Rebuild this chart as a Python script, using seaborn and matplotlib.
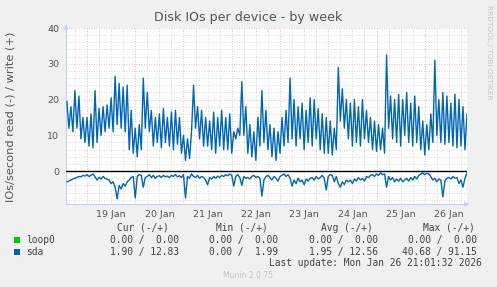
import numpy as np
import pandas as pd
import matplotlib
matplotlib.use("Agg")
import matplotlib.pyplot as plt
import matplotlib.dates as mdates
from matplotlib.ticker import MultipleLocator, FuncFormatter, FixedLocator
import seaborn as sns

# ---------------- data (hourly samples, 18 Jan 14:00 -> 26 Jan 21:00) ----------------
sda_write = [
    19.5, 12, 18, 11, 22.5, 12, 21, 9, 15, 8,
    15, 7, 16, 6.5, 22.5, 8, 17.5, 10, 18, 11,
    18.5, 12, 20.5, 11, 26.5, 13, 24.5, 12, 23.5, 11,
    24, 6, 17, 5, 12, 4, 13, 6, 26, 12,
    22, 11, 17, 7, 15, 8, 16, 6.5, 17.5, 8,
    15, 7, 16.5, 6, 17, 7.5, 15, 5, 10, 3,
    9, 3.5, 11, 24, 12, 18, 9, 17, 7, 15,
    7, 14, 6, 16.5, 5, 15, 7, 17, 6, 15,
    6, 16, 5, 11, 9, 12, 10, 25, 10, 18,
    5, 13, 4, 11, 3, 15, 7, 22.5, 8, 17,
    6, 13, 4, 12, 3, 11, 5, 15, 7, 17,
    8, 26, 9, 20, 7, 18, 9, 19, 6, 17,
    8, 20.5, 7, 20, 9, 17.5, 6, 16, 5, 15,
    5, 14, 4.5, 12, 6, 29, 14, 23, 12, 20,
    9, 19, 7, 20, 8, 18, 7, 20, 9, 17,
    8, 15, 6, 14, 5.5, 13, 6, 12, 5, 32.5,
    12, 21, 9, 20, 8, 21.5, 7, 20, 10, 22,
    8, 19, 7, 21, 8, 18, 6, 14, 4.5, 13,
    6, 16, 8, 31, 10, 20, 8, 22, 7.5, 21,
    8, 19, 7, 21.5, 6.5, 20, 7, 18, 6, 16,
]
sda_read = [
    3.0, 2.8, 2.5, 2.2, 2.0, 1.8, 1.5, 1.6, 1.2, 1.4,
    1.0, 1.5, 1.2, 0.8, 1.6, 2.5, 1.8, 2.2, 1.5, 2.0,
    2.3, 2.5, 3.5, 3.0, 4.5, 7.8, 4.0, 5.0, 3.5, 4.2,
    3.0, 2.5, 1.8, 1.5, 7.5, 1.5, 1.0, 1.2, 4.5, 1.8,
    1.5, 1.0, 1.8, 1.2, 2.0, 1.5, 1.3, 1.8, 1.2, 1.6,
    1.4, 1.8, 1.2, 1.5, 1.0, 1.6, 1.3, 1.8, 1.0, 7.5,
    1.5, 2.0, 0.8, 1.5, 1.8, 1.2, 2.0, 1.5, 1.8, 2.5,
    3.8, 1.8, 2.2, 1.5, 2.0, 1.4, 1.8, 1.2, 1.5, 1.0,
    1.3, 0.8, 1.2, 4.2, 1.5, 1.0, 1.8, 4.0, 1.5, 2.0,
    1.8, 2.2, 1.5, 1.2, 1.8, 1.5, 2.0, 7.0, 2.5, 1.5,
    1.2, 1.8, 2.5, 1.5, 2.0, 2.8, 1.5, 1.2, 0.8, 1.5,
    1.0, 2.0, 4.2, 2.5, 3.5, 2.0, 3.0, 2.5, 3.8, 2.2,
    2.8, 2.0, 1.8, 2.5, 1.5, 2.2, 1.8, 1.2, 2.0, 5.3,
    1.5, 1.0, 1.2, 3.0, 1.5, 3.5, 4.5, 3.0, 3.8, 2.5,
    3.0, 2.5, 3.5, 2.2, 2.8, 1.8, 2.5, 2.0, 2.8, 1.5,
    1.8, 1.2, 1.0, 1.5, 0.8, 1.2, 0.5, 1.0, 0.8, 4.5,
    1.5, 2.5, 1.8, 3.0, 2.2, 2.8, 2.0, 3.0, 2.5, 2.0,
    2.8, 1.8, 2.5, 1.5, 2.2, 1.2, 0.8, 0.5, 1.0, 0.6,
    0.8, 1.5, 2.5, 2.0, 3.0, 2.2, 2.5, 7.2, 2.8, 2.0,
    1.8, 2.2, 1.5, 2.0, 1.8, 3.5, 2.5, 4.5, 2.0, 0.5,
]
series_names = ["loop0", "sda"]
series_colors = ["#00CC00", "#0066B3"]
col_headers = ["Cur (-/+)", "Min (-/+)", "Avg (-/+)", "Max (-/+)"]
loop0_stats = ["0.00 /  0.00", "0.00 /  0.00", "0.00 /  0.00", "0.00 /  0.00"]
sda_stats = ["1.90 / 12.83", "0.00 /  1.99", "1.95 / 12.56", "40.68 / 91.15"]
y_tick_values = [0, 10, 20, 30, 40]

title = "Disk IOs per device - by week"
ylabel = "IOs/second read (-) / write (+)"
last_update = "Last update: Mon Jan 26 21:01:32 2026"
munin_ver = "Munin 2.0.75"
rrd_credit = "RRDTOOL / TOBI OETIKER"

# ---------------- figure ----------------
sns.set_theme(style="white")
plt.rcParams["font.family"] = ["DejaVu Sans"]

W, H = 497, 287
fig = plt.figure(figsize=(W / 100, H / 100), dpi=100, facecolor="#F0F0F0")
ax = fig.add_axes([66 / W, 1 - 204 / H, 401 / W, 176 / H])
ax.set_facecolor("white")

times = pd.date_range("2026-01-18 14:00", periods=len(sda_write), freq="h")
df = pd.DataFrame({"time": times, "write": sda_write,
                   "read": [-v for v in sda_read]})

sns.lineplot(data=df, x="time", y="write", ax=ax, color=series_colors[1],
             lw=1.0, zorder=3)
sns.lineplot(data=df, x="time", y="read", ax=ax, color=series_colors[1],
             lw=1.0, zorder=3)

ax.set_xlim(pd.Timestamp("2026-01-18 13:34"), pd.Timestamp("2026-01-26 21:00"))
ax.set_ylim(-9.2, 40)

# grid
ax.yaxis.set_major_locator(FixedLocator(y_tick_values))
ax.yaxis.set_minor_locator(MultipleLocator(2))
ax.xaxis.set_major_locator(mdates.DayLocator())
ax.xaxis.set_minor_locator(mdates.HourLocator(byhour=[6, 12, 18]))
ax.xaxis.set_major_formatter(FuncFormatter(lambda v, p: ""))

def minor_fmt(v, p):
    d = mdates.num2date(v)
    return d.strftime("%-d %b") if d.hour == 12 else ""

ax.xaxis.set_minor_formatter(FuncFormatter(minor_fmt))
ax.grid(which="major", color="#F0A8A8", lw=0.6, ls=(0, (1, 2)))
ax.grid(which="minor", color="#CFCFCF", lw=0.6, ls=(0, (1, 2)))
ax.set_axisbelow(True)
ax.tick_params(which="both", length=0, labelsize=6.8, labelcolor="#555555")
ax.tick_params(axis="y", pad=5)
ax.tick_params(axis="x", which="minor", pad=4)

ax.axhline(0, color="black", lw=1.0, zorder=4)

for s in ["top", "right"]:
    ax.spines[s].set_visible(False)
for s in ["left", "bottom"]:
    ax.spines[s].set_color("#C8D0F0")
    ax.spines[s].set_linewidth(0.8)
ax.set_xlabel("")
ax.set_ylabel("")

# axis arrows
ax.annotate("", xy=(0, 1.035), xytext=(0, 0.99), xycoords="axes fraction",
            arrowprops=dict(arrowstyle="-|>", color="#C8D0F0", lw=0.8,
                            mutation_scale=6), annotation_clip=False)
ax.annotate("", xy=(1.012, 0), xytext=(0.99, 0), xycoords="axes fraction",
            arrowprops=dict(arrowstyle="-|>", color="#C8D0F0", lw=0.8,
                            mutation_scale=6), annotation_clip=False)

# texts
def fx(px):
    return px / W

def fy(py):
    return 1 - py / H

fig.text(fx(248), fy(18), title, fontsize=9.1, color="#555555",
         ha="center", va="center")
fig.text(fx(11), fy(117), ylabel, fontsize=8.2, color="#555555",
         rotation=90, ha="center", va="center")
fig.text(fx(489), fy(5), rrd_credit, fontsize=5.3, color="#C4C4C4",
         rotation=270, ha="center", va="top")

mono = dict(family="DejaVu Sans Mono", fontsize=6.9, color="#444444")
header_centers = [143, 242, 347, 449]
col_right = [179, 278, 378, 477]
for h, cx in zip(col_headers, header_centers):
    fig.text(fx(cx), fy(228), h, ha="center", va="center", **mono)

rows = [loop0_stats, sda_stats]
row_y = [240, 252]
for name, color, stats, ry in zip(series_names, series_colors, rows, row_y):
    fig.patches.append(plt.Rectangle((fx(14), fy(ry + 3)), 6 / W, 6 / H,
                                     transform=fig.transFigure,
                                     facecolor=color, edgecolor="none"))
    fig.text(fx(26), fy(ry), name, ha="left", va="center", **mono)
    for val, rx in zip(stats, col_right):
        fig.text(fx(rx), fy(ry), val, ha="right", va="center", **mono)

fig.text(fx(482), fy(263), last_update, ha="right", va="center", **mono)
fig.text(fx(248), fy(276), munin_ver, ha="center", va="center",
         fontsize=5.5, color="#C4C4C4")

fig.savefig("out.png", dpi=100, facecolor=fig.get_facecolor())
